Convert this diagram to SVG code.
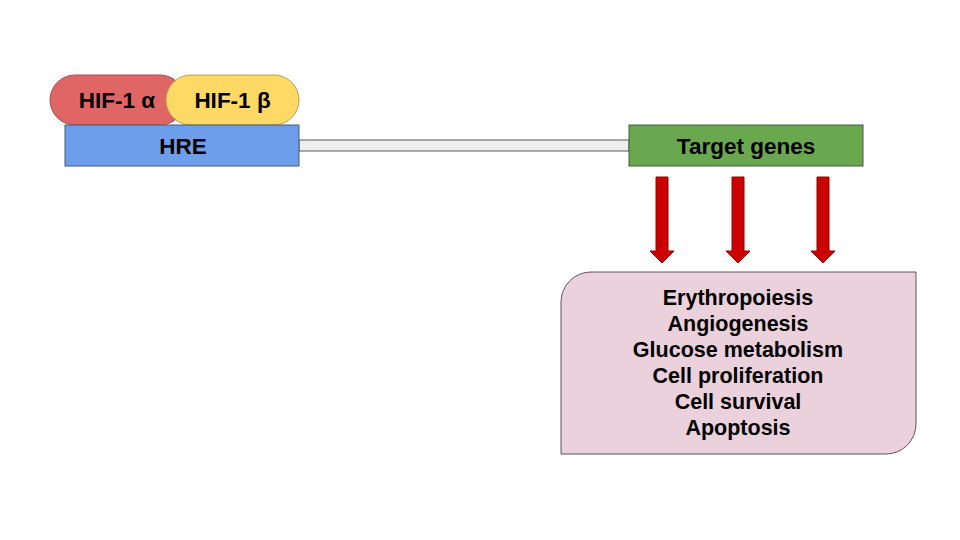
<svg xmlns="http://www.w3.org/2000/svg" width="960" height="540" viewBox="0 0 960 540">
<defs>
<style>
text{font-family:"Liberation Sans",Arial,sans-serif;font-weight:bold;font-size:22.5px;fill:#000;text-anchor:middle}
.list{font-size:21.5px}
.arrow{fill:#cc0000;stroke:#990000;stroke-width:1}
</style>
</defs>
<rect width="960" height="540" fill="#ffffff"/>
<g id="connectors">
<rect x="299" y="140" width="330" height="11" fill="#eeeeee" stroke="#595959" stroke-width="1"/>
<polygon class="arrow" points="656,177 668,177 668,251 674,251 662,263 650,251 656,251"/>
<polygon class="arrow" points="732,177 744,177 744,251 750,251 738,263 726,251 732,251"/>
<polygon class="arrow" points="817,177 829,177 829,251 835,251 823,263 811,251 817,251"/>
</g>
<g id="hif1a">
<rect x="50" y="75" width="135" height="50" rx="25" ry="25" fill="#e06666" stroke="#a05050" stroke-width="1"/>
<text x="117" y="108">HIF-1 α</text>
</g>
<g id="hif1b">
<rect x="166" y="75" width="133" height="50" rx="25" ry="25" fill="#ffd966" stroke="#b8a050" stroke-width="1"/>
<text x="232.5" y="108">HIF-1 β</text>
</g>
<g id="hre">
<rect x="65" y="125" width="234" height="41" fill="#6d9eeb" stroke="#4a5a70" stroke-width="1"/>
<text x="183" y="154">HRE</text>
</g>
<g id="target">
<rect x="629" y="125" width="234" height="41" fill="#6aa84f" stroke="#4d5a48" stroke-width="1"/>
<text x="746" y="154">Target genes</text>
</g>
<g id="effects">
<path d="M561,302 A30,30 0 0 1 591,272 L916,272 L916,424 A30,30 0 0 1 886,454 L561,454 Z" fill="#ead1dc" stroke="#595959" stroke-width="1"/>
<text class="list" x="738" y="305">Erythropoiesis</text>
<text class="list" x="738" y="331">Angiogenesis</text>
<text class="list" x="738" y="357">Glucose metabolism</text>
<text class="list" x="738" y="383">Cell proliferation</text>
<text class="list" x="738" y="409">Cell survival</text>
<text class="list" x="738" y="435">Apoptosis</text>
</g>
</svg>
